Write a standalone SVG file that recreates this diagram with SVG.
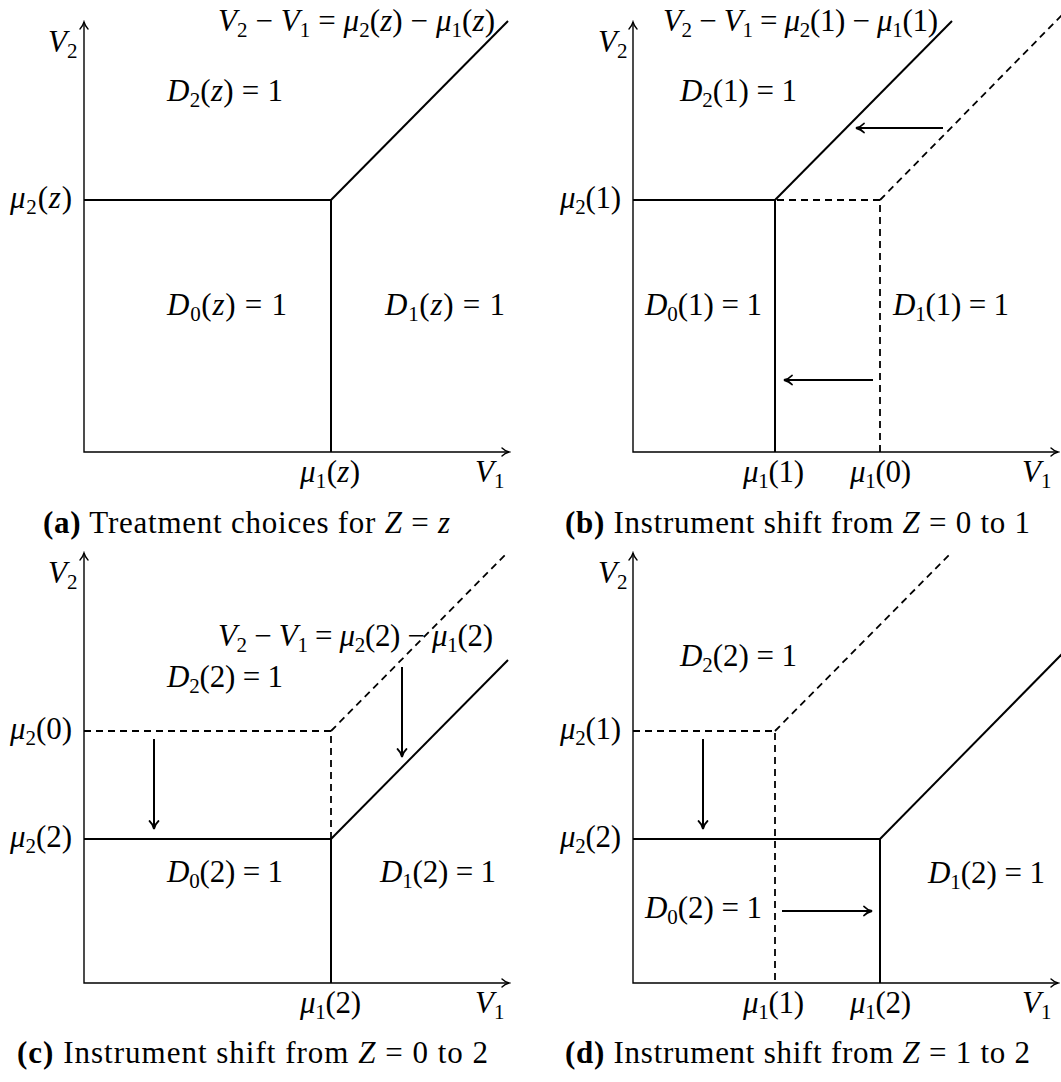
<svg xmlns="http://www.w3.org/2000/svg" width="1061" height="1082" viewBox="0 0 1061 1082">
<style>
text { font-family: "Liberation Serif", "Times New Roman", serif; font-size: 31px; fill: #000; }
.i { font-style: italic; }
.s { font-size: 21px; }
.b { font-weight: bold; }
.ax { fill: none; stroke: #000; stroke-width: 1.4; marker-start: url(#ah); marker-end: url(#ah); }
.sl { fill: none; stroke: #000; stroke-width: 2; }
.dl { fill: none; stroke: #000; stroke-width: 1.8; stroke-dasharray: 7 5; }
.ar { fill: none; stroke: #000; stroke-width: 2; marker-end: url(#ah2); }
</style>
<defs>
<marker id="ah" viewBox="-9 -6 11 12" refX="0" refY="0" markerWidth="11" markerHeight="12" markerUnits="userSpaceOnUse" orient="auto-start-reverse">
<path d="M-7,-4 C-5,-2 -2,-0.6 0,0 C-2,0.6 -5,2 -7,4" fill="none" stroke="#000" stroke-width="1.4" stroke-linecap="round"/>
</marker>
<marker id="ah2" viewBox="-10 -6 12 12" refX="0" refY="0" markerWidth="12" markerHeight="12" markerUnits="userSpaceOnUse" orient="auto">
<path d="M-8,-4.5 C-6,-2.2 -2.5,-0.6 0,0 C-2.5,0.6 -6,2.2 -8,4.5" fill="none" stroke="#000" stroke-width="1.8" stroke-linecap="round"/>
</marker>
</defs>

<g id="panel-a">
<g id="a-connectors">
<path class="ax" d="M84,22 V452 H509"/>
<path class="sl" d="M84,200 H331 V452"/>
<path class="sl" d="M331,200 L508,21"/>
</g>
<g id="a-labels">
<text x="48" y="52"><tspan class="i">V</tspan><tspan class="s" dy="6">2</tspan></text>
<text x="218" y="31" textLength="277"><tspan class="i">V</tspan><tspan class="s" dy="6">2</tspan><tspan dy="-6"> − </tspan><tspan class="i">V</tspan><tspan class="s" dy="6">1</tspan><tspan dy="-6"> = </tspan><tspan class="i">μ</tspan><tspan class="s" dy="6">2</tspan><tspan dy="-6">(</tspan><tspan class="i">z</tspan><tspan>) − </tspan><tspan class="i">μ</tspan><tspan class="s" dy="6">1</tspan><tspan dy="-6">(</tspan><tspan class="i">z</tspan><tspan>)</tspan></text>
<text x="167" y="101" textLength="116"><tspan class="i">D</tspan><tspan class="s" dy="6">2</tspan><tspan dy="-6">(</tspan><tspan class="i">z</tspan><tspan>) = 1</tspan></text>
<text x="10" y="208" textLength="62"><tspan class="i">μ</tspan><tspan class="s" dy="6">2</tspan><tspan dy="-6">(</tspan><tspan class="i">z</tspan><tspan>)</tspan></text>
<text x="167" y="315" textLength="120"><tspan class="i">D</tspan><tspan class="s" dy="6">0</tspan><tspan dy="-6">(</tspan><tspan class="i">z</tspan><tspan>) = 1</tspan></text>
<text x="385" y="315" textLength="120"><tspan class="i">D</tspan><tspan class="s" dy="6">1</tspan><tspan dy="-6">(</tspan><tspan class="i">z</tspan><tspan>) = 1</tspan></text>
<text x="300" y="482" textLength="60"><tspan class="i">μ</tspan><tspan class="s" dy="6">1</tspan><tspan dy="-6">(</tspan><tspan class="i">z</tspan><tspan>)</tspan></text>
<text x="475" y="482"><tspan class="i">V</tspan><tspan class="s" dy="6">1</tspan></text>
<text x="43" y="533" textLength="407"><tspan class="b">(a)</tspan><tspan> Treatment choices for </tspan><tspan class="i">Z</tspan><tspan> = </tspan><tspan class="i">z</tspan></text>
</g>
</g>

<g id="panel-b">
<g id="b-connectors">
<path class="ax" d="M633,22 V452 H1058"/>
<path class="dl" d="M633,200 H880 V452"/>
<path class="dl" d="M880,200 L1062,15"/>
<path class="sl" d="M633,200 H775 V452"/>
<path class="sl" d="M775,200 L952,21"/>
<path class="ar" d="M943,128 H856"/>
<path class="ar" d="M873,380 H784"/>
</g>
<g id="b-labels">
<text x="598" y="52"><tspan class="i">V</tspan><tspan class="s" dy="6">2</tspan></text>
<text x="663" y="31" textLength="275"><tspan class="i">V</tspan><tspan class="s" dy="6">2</tspan><tspan dy="-6"> − </tspan><tspan class="i">V</tspan><tspan class="s" dy="6">1</tspan><tspan dy="-6"> = </tspan><tspan class="i">μ</tspan><tspan class="s" dy="6">2</tspan><tspan dy="-6">(1) − </tspan><tspan class="i">μ</tspan><tspan class="s" dy="6">1</tspan><tspan dy="-6">(1)</tspan></text>
<text x="680" y="101" textLength="117"><tspan class="i">D</tspan><tspan class="s" dy="6">2</tspan><tspan dy="-6">(1) = 1</tspan></text>
<text x="560" y="208" textLength="61"><tspan class="i">μ</tspan><tspan class="s" dy="6">2</tspan><tspan dy="-6">(1)</tspan></text>
<text x="645" y="315" textLength="117"><tspan class="i">D</tspan><tspan class="s" dy="6">0</tspan><tspan dy="-6">(1) = 1</tspan></text>
<text x="893" y="315" textLength="116"><tspan class="i">D</tspan><tspan class="s" dy="6">1</tspan><tspan dy="-6">(1) = 1</tspan></text>
<text x="743" y="482" textLength="61"><tspan class="i">μ</tspan><tspan class="s" dy="6">1</tspan><tspan dy="-6">(1)</tspan></text>
<text x="850" y="482" textLength="61"><tspan class="i">μ</tspan><tspan class="s" dy="6">1</tspan><tspan dy="-6">(0)</tspan></text>
<text x="1022" y="482"><tspan class="i">V</tspan><tspan class="s" dy="6">1</tspan></text>
<text x="565" y="533" textLength="465"><tspan class="b">(b)</tspan><tspan> Instrument shift from </tspan><tspan class="i">Z</tspan><tspan> = 0 to 1</tspan></text>
</g>
</g>

<g id="panel-c">
<g id="c-connectors">
<path class="ax" d="M84,553 V983 H509"/>
<path class="dl" d="M84,731 H331 V839"/>
<path class="dl" d="M331,731 L508,552"/>
<path class="sl" d="M84,839 H331 V983"/>
<path class="sl" d="M331,839 L508,660"/>
<path class="ar" d="M154,739 V829"/>
<path class="ar" d="M402,667 V757"/>
</g>
<g id="c-labels">
<text x="48" y="583"><tspan class="i">V</tspan><tspan class="s" dy="6">2</tspan></text>
<text x="218" y="646" textLength="275"><tspan class="i">V</tspan><tspan class="s" dy="6">2</tspan><tspan dy="-6"> − </tspan><tspan class="i">V</tspan><tspan class="s" dy="6">1</tspan><tspan dy="-6"> = </tspan><tspan class="i">μ</tspan><tspan class="s" dy="6">2</tspan><tspan dy="-6">(2) − </tspan><tspan class="i">μ</tspan><tspan class="s" dy="6">1</tspan><tspan dy="-6">(2)</tspan></text>
<text x="167" y="687" textLength="116"><tspan class="i">D</tspan><tspan class="s" dy="6">2</tspan><tspan dy="-6">(2) = 1</tspan></text>
<text x="10" y="739" textLength="62"><tspan class="i">μ</tspan><tspan class="s" dy="6">2</tspan><tspan dy="-6">(0)</tspan></text>
<text x="10" y="847" textLength="62"><tspan class="i">μ</tspan><tspan class="s" dy="6">2</tspan><tspan dy="-6">(2)</tspan></text>
<text x="167" y="882" textLength="116"><tspan class="i">D</tspan><tspan class="s" dy="6">0</tspan><tspan dy="-6">(2) = 1</tspan></text>
<text x="380" y="882" textLength="116"><tspan class="i">D</tspan><tspan class="s" dy="6">1</tspan><tspan dy="-6">(2) = 1</tspan></text>
<text x="300" y="1013" textLength="61"><tspan class="i">μ</tspan><tspan class="s" dy="6">1</tspan><tspan dy="-6">(2)</tspan></text>
<text x="475" y="1013"><tspan class="i">V</tspan><tspan class="s" dy="6">1</tspan></text>
<text x="17" y="1063" textLength="471"><tspan class="b">(c)</tspan><tspan> Instrument shift from </tspan><tspan class="i">Z</tspan><tspan> = 0 to 2</tspan></text>
</g>
</g>

<g id="panel-d">
<g id="d-connectors">
<path class="ax" d="M633,553 V983 H1058"/>
<path class="dl" d="M633,731 H775 V983"/>
<path class="dl" d="M775,731 L952,552"/>
<path class="sl" d="M633,839 H880 V983"/>
<path class="sl" d="M880,839 L1062,654"/>
<path class="ar" d="M703,739 V829"/>
<path class="ar" d="M782,911 H872"/>
</g>
<g id="d-labels">
<text x="598" y="583"><tspan class="i">V</tspan><tspan class="s" dy="6">2</tspan></text>
<text x="680" y="666" textLength="117"><tspan class="i">D</tspan><tspan class="s" dy="6">2</tspan><tspan dy="-6">(2) = 1</tspan></text>
<text x="560" y="739" textLength="61"><tspan class="i">μ</tspan><tspan class="s" dy="6">2</tspan><tspan dy="-6">(1)</tspan></text>
<text x="560" y="847" textLength="61"><tspan class="i">μ</tspan><tspan class="s" dy="6">2</tspan><tspan dy="-6">(2)</tspan></text>
<text x="645" y="918" textLength="117"><tspan class="i">D</tspan><tspan class="s" dy="6">0</tspan><tspan dy="-6">(2) = 1</tspan></text>
<text x="928" y="883" textLength="117"><tspan class="i">D</tspan><tspan class="s" dy="6">1</tspan><tspan dy="-6">(2) = 1</tspan></text>
<text x="743" y="1013" textLength="61"><tspan class="i">μ</tspan><tspan class="s" dy="6">1</tspan><tspan dy="-6">(1)</tspan></text>
<text x="850" y="1013" textLength="61"><tspan class="i">μ</tspan><tspan class="s" dy="6">1</tspan><tspan dy="-6">(2)</tspan></text>
<text x="1022" y="1013"><tspan class="i">V</tspan><tspan class="s" dy="6">1</tspan></text>
<text x="565" y="1063" textLength="465"><tspan class="b">(d)</tspan><tspan> Instrument shift from </tspan><tspan class="i">Z</tspan><tspan> = 1 to 2</tspan></text>
</g>
</g>
</svg>
